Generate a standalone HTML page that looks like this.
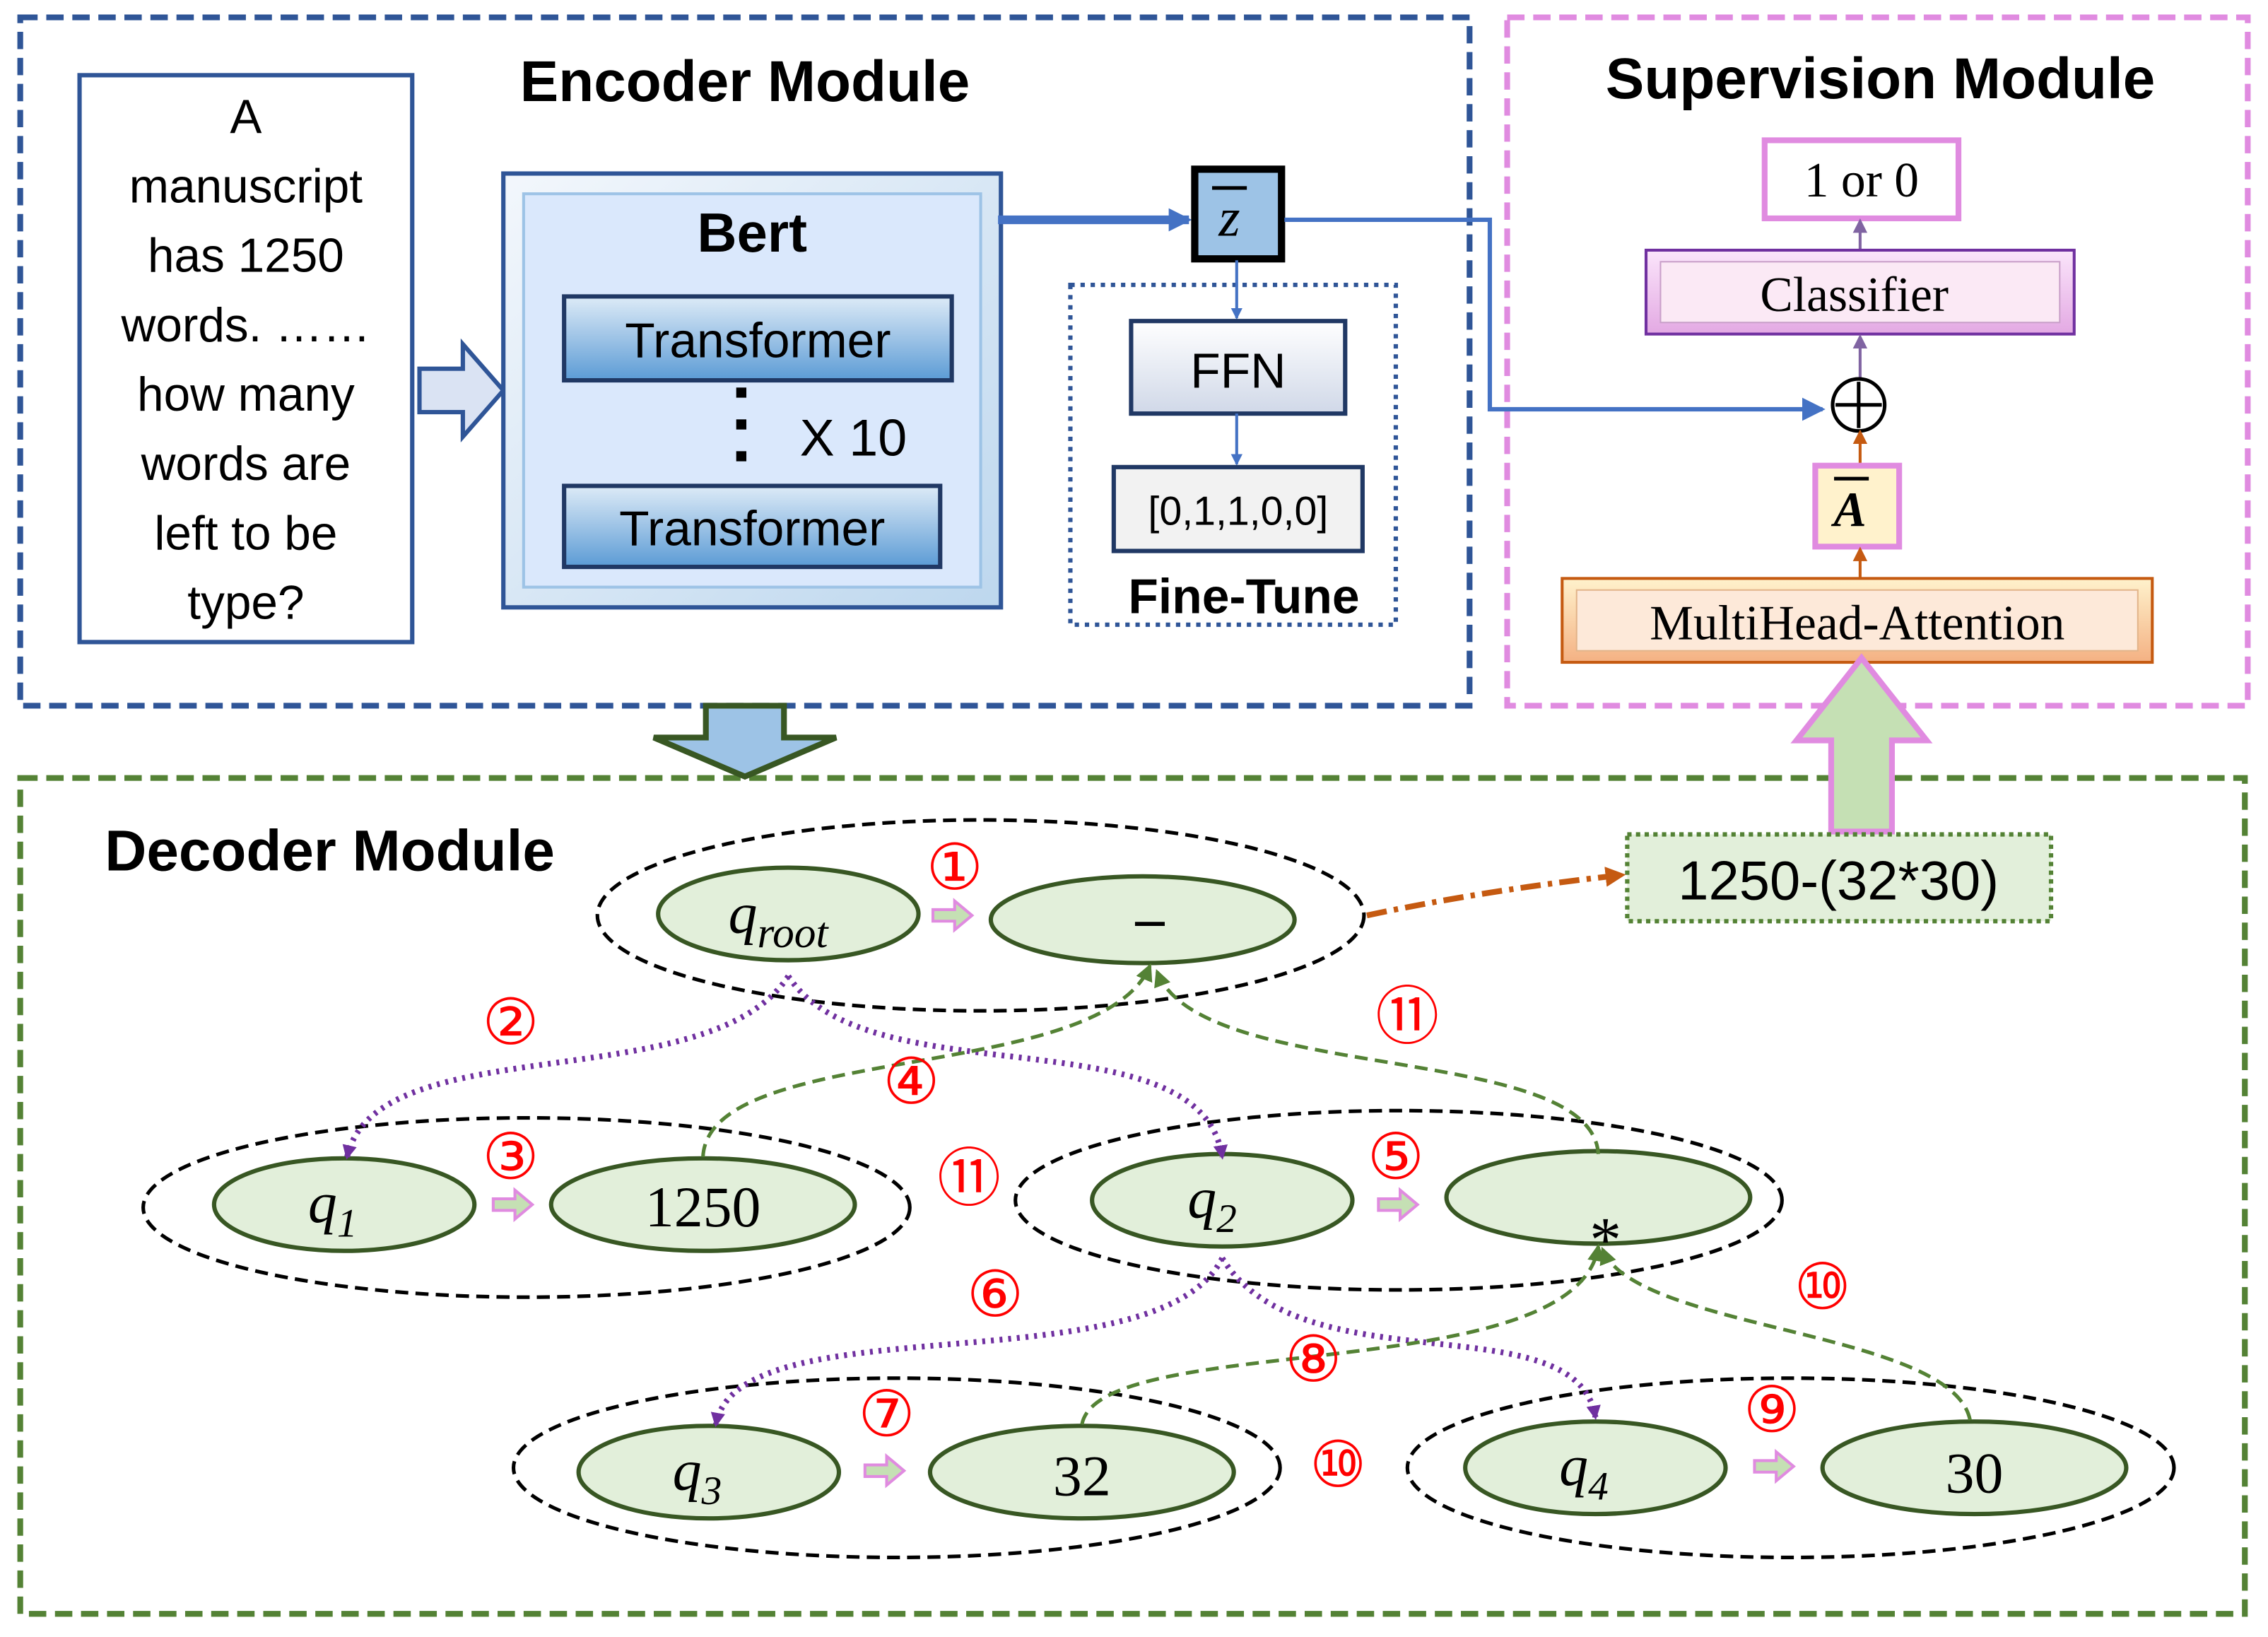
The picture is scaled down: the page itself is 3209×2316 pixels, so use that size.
<!DOCTYPE html>
<html><head><meta charset="utf-8"><style>html,body{margin:0;padding:0;background:#fff}svg{display:block}</style></head><body>
<svg width="3209" height="2316" viewBox="0 0 1568 1132" preserveAspectRatio="none" xmlns="http://www.w3.org/2000/svg">
<defs>
<linearGradient id="gb" x1="0" y1="0" x2="0" y2="1"><stop offset="0" stop-color="#ddebf7"/><stop offset="0.5" stop-color="#9dc3e6"/><stop offset="1" stop-color="#5b9bd5"/></linearGradient>
<linearGradient id="gbert" x1="0" y1="0" x2="1" y2="1"><stop offset="0" stop-color="#f3f7fc"/><stop offset="1" stop-color="#bdd7ee"/></linearGradient>
<linearGradient id="gg" x1="0" y1="0" x2="0" y2="1"><stop offset="0" stop-color="#fff"/><stop offset="1" stop-color="#d0d8e8"/></linearGradient>
<linearGradient id="gp" x1="0" y1="0" x2="0" y2="1"><stop offset="0" stop-color="#fbe5fb"/><stop offset="1" stop-color="#e3a9e3"/></linearGradient>
<linearGradient id="go" x1="0" y1="0" x2="0" y2="1"><stop offset="0" stop-color="#fff2cc"/><stop offset="1" stop-color="#f4b183"/></linearGradient>
<marker id="ab" markerWidth="8" markerHeight="8" refX="7" refY="4" orient="auto" markerUnits="userSpaceOnUse"><path d="M0,0 L8,4 L0,8z" fill="#4472c4"/></marker>
<marker id="abl" markerWidth="16" markerHeight="16" refX="14" refY="8" orient="auto" markerUnits="userSpaceOnUse"><path d="M0,0 L16,8 L0,16z" fill="#4472c4"/></marker>
<marker id="ap" markerWidth="10" markerHeight="10" refX="8" refY="5" orient="auto" markerUnits="userSpaceOnUse"><path d="M0,0 L10,5 L0,10z" fill="#7030a0"/></marker>
<marker id="ag" markerWidth="12" markerHeight="12" refX="10" refY="6" orient="auto" markerUnits="userSpaceOnUse"><path d="M0,0 L12,6 L0,12z" fill="#548235"/></marker>
<marker id="ao" markerWidth="14" markerHeight="14" refX="12" refY="7" orient="auto" markerUnits="userSpaceOnUse"><path d="M0,0 L14,7 L0,14z" fill="#c55a11"/></marker>
<marker id="apu" markerWidth="10" markerHeight="10" refX="8" refY="5" orient="auto" markerUnits="userSpaceOnUse"><path d="M0,0 L10,5 L0,10z" fill="#8064a2"/></marker>
<marker id="aor" markerWidth="10" markerHeight="10" refX="8" refY="5" orient="auto" markerUnits="userSpaceOnUse"><path d="M0,0 L10,5 L0,10z" fill="#c55a11"/></marker>
</defs>
<g font-family="Liberation Sans, sans-serif">
<rect x="14" y="12" width="1002" height="476" fill="none" stroke="#2f5597" stroke-width="4" stroke-dasharray="12,6"/>
<rect x="1042" y="12" width="512" height="476" fill="none" stroke="#e08be0" stroke-width="4" stroke-dasharray="12,6"/>
<rect x="14" y="538" width="1538" height="578" fill="none" stroke="#548235" stroke-width="4" stroke-dasharray="12,6"/>
<text x="515" y="70" font-size="40" font-weight="bold" text-anchor="middle">Encoder Module</text>
<text x="1300" y="68" font-size="40" font-weight="bold" text-anchor="middle">Supervision Module</text>
<text x="228" y="602" font-size="40" font-weight="bold" text-anchor="middle">Decoder Module</text>
<rect x="55" y="52" width="230" height="392" fill="#fff" stroke="#2f5597" stroke-width="3"/>
<g font-size="33" text-anchor="middle">
<text x="170" y="92">A</text><text x="170" y="140">manuscript</text><text x="170" y="188">has 1250</text><text x="170" y="236">words. ……</text><text x="170" y="284">how many</text><text x="170" y="332">words are</text><text x="170" y="380">left to be</text><text x="170" y="428">type?</text></g>
<path d="M290,255 L320,255 L320,238 L348,270 L320,302 L320,285 L290,285z" fill="#dae3f3" stroke="#2f5597" stroke-width="3"/>
<rect x="348" y="120" width="344" height="300" fill="url(#gbert)" stroke="#2f5597" stroke-width="3"/>
<rect x="362" y="134" width="316" height="272" fill="#dae8fc" stroke="#9dc3e6" stroke-width="2"/>
<text x="520" y="174" font-size="38" font-weight="bold" text-anchor="middle">Bert</text>
<rect x="390" y="205" width="268" height="58" fill="url(#gb)" stroke="#203864" stroke-width="3"/>
<text x="524" y="247" font-size="34" text-anchor="middle">Transformer</text>
<rect x="390" y="336" width="260" height="56" fill="url(#gb)" stroke="#203864" stroke-width="3"/>
<text x="520" y="377" font-size="34" text-anchor="middle">Transformer</text>
<rect x="509" y="268" width="7" height="7" fill="#000"/><rect x="509" y="290" width="7" height="7" fill="#000"/><rect x="509" y="312" width="7" height="7" fill="#000"/>
<text x="590" y="315" font-size="36" text-anchor="middle">X 10</text>
<line x1="690" y1="152" x2="822" y2="152" stroke="#4472c4" stroke-width="6" marker-end="url(#abl)"/>
<rect x="826" y="117" width="60" height="62" fill="#9dc3e6" stroke="#000" stroke-width="5"/>
<text x="850" y="163" font-size="38" font-style="italic" font-family="Liberation Serif, serif" text-anchor="middle">z</text>
<line x1="838" y1="130" x2="862" y2="130" stroke="#000" stroke-width="2.5"/>
<polyline points="888,152 1030,152 1030,283 1260,283" fill="none" stroke="#4472c4" stroke-width="3" marker-end="url(#abl)"/>
<rect x="740" y="197" width="225" height="235" fill="none" stroke="#2f5597" stroke-width="3" stroke-dasharray="3,4"/>
<line x1="855" y1="180" x2="855" y2="220" stroke="#4472c4" stroke-width="2" marker-end="url(#ab)"/>
<rect x="782" y="222" width="148" height="64" fill="url(#gg)" stroke="#203864" stroke-width="3"/>
<text x="856" y="268" font-size="34" text-anchor="middle">FFN</text>
<line x1="855" y1="286" x2="855" y2="321" stroke="#4472c4" stroke-width="2" marker-end="url(#ab)"/>
<rect x="770" y="323" width="172" height="58" fill="#f2f2f2" stroke="#203864" stroke-width="3"/>
<text x="856" y="363" font-size="28" text-anchor="middle">[0,1,1,0,0]</text>
<text x="860" y="424" font-size="34" font-weight="bold" text-anchor="middle">Fine-Tune</text>
<path d="M488,488 L542,488 L542,510 L578,510 L515,537 L452,510 L488,510z" fill="#9dc3e6" stroke="#385723" stroke-width="4"/>
<rect x="1220" y="97" width="134" height="54" fill="#fff" stroke="#e08be0" stroke-width="4"/>
<text x="1287" y="136" font-size="34" font-family="Liberation Serif, serif" text-anchor="middle">1 or 0</text>
<line x1="1286" y1="173" x2="1286" y2="153" stroke="#8064a2" stroke-width="2" marker-end="url(#apu)"/>
<rect x="1138" y="173" width="296" height="58" fill="url(#gp)" stroke="#7030a0" stroke-width="2"/>
<rect x="1148" y="181" width="276" height="42" fill="#fbe9f5" stroke="#c9a0c9"/>
<text x="1282" y="215" font-size="34" font-family="Liberation Serif, serif" text-anchor="middle">Classifier</text>
<line x1="1286" y1="262" x2="1286" y2="233" stroke="#8064a2" stroke-width="2" marker-end="url(#apu)"/>
<circle cx="1285" cy="280" r="18" fill="#fff" stroke="#000" stroke-width="2.5"/>
<line x1="1269" y1="280" x2="1301" y2="280" stroke="#000" stroke-width="2.5"/><line x1="1285" y1="264" x2="1285" y2="296" stroke="#000" stroke-width="2.5"/>
<line x1="1286" y1="322" x2="1286" y2="299" stroke="#c55a11" stroke-width="2" marker-end="url(#aor)"/>
<rect x="1255" y="322" width="58" height="56" fill="#fff2cc" stroke="#e08be0" stroke-width="4"/>
<text x="1279" y="364" font-size="34" font-weight="bold" font-style="italic" font-family="Liberation Serif, serif" text-anchor="middle">A</text>
<line x1="1268" y1="331" x2="1292" y2="331" stroke="#000" stroke-width="2.5"/>
<line x1="1286" y1="400" x2="1286" y2="380" stroke="#c55a11" stroke-width="2" marker-end="url(#aor)"/>
<rect x="1080" y="400" width="408" height="58" fill="url(#go)" stroke="#c55a11" stroke-width="2"/>
<rect x="1090" y="408" width="388" height="42" fill="#fde9d9" stroke="#e2b48a"/>
<text x="1284" y="442" font-size="34" font-family="Liberation Serif, serif" text-anchor="middle">MultiHead-Attention</text>
<path d="M1266,575 L1266,512 L1242,512 L1287,455 L1332,512 L1308,512 L1308,575z" fill="#c5e0b4" stroke="#e08be0" stroke-width="4"/>
<g fill="none" stroke="#000" stroke-width="2.5" stroke-dasharray="9,5">
<ellipse cx="678" cy="633" rx="265" ry="66"/>
<ellipse cx="364" cy="835" rx="265" ry="62"/>
<ellipse cx="967" cy="830" rx="265" ry="62"/>
<ellipse cx="620" cy="1015" rx="265" ry="62"/>
<ellipse cx="1238" cy="1015" rx="265" ry="62"/>
</g>
<g fill="#e2efda" stroke="#385723" stroke-width="3">
<ellipse cx="545" cy="632" rx="90" ry="32"/><ellipse cx="790" cy="636" rx="105" ry="30"/>
<ellipse cx="238" cy="833" rx="90" ry="32"/><ellipse cx="486" cy="833" rx="105" ry="32"/>
<ellipse cx="845" cy="830" rx="90" ry="32"/><ellipse cx="1105" cy="828" rx="105" ry="32"/>
<ellipse cx="490" cy="1018" rx="90" ry="32"/><ellipse cx="748" cy="1018" rx="105" ry="32"/>
<ellipse cx="1103" cy="1015" rx="90" ry="32"/><ellipse cx="1365" cy="1015" rx="105" ry="32"/>
</g>
<g font-family="Liberation Serif, serif" font-size="40" text-anchor="middle">
<text x="538" y="645" font-style="italic">q<tspan font-size="30" dy="10">root</tspan></text>
<text x="795" y="648" font-weight="bold">–</text>
<text x="230" y="845" font-style="italic">q<tspan font-size="28" dy="10">1</tspan></text>
<text x="486" y="848">1250</text>
<text x="838" y="842" font-style="italic">q<tspan font-size="28" dy="10">2</tspan></text>
<text x="1110" y="872" font-size="44">*</text>
<text x="482" y="1030" font-style="italic">q<tspan font-size="28" dy="10">3</tspan></text>
<text x="748" y="1034">32</text>
<text x="1095" y="1027" font-style="italic">q<tspan font-size="28" dy="10">4</tspan></text>
<text x="1365" y="1032">30</text>
</g>
<g fill="#c5e0b4" stroke="#e08be0" stroke-width="2">
<path d="M645,629 L660,629 L660,623 L672,633 L660,643 L660,637 L645,637z"/>
<path d="M341,829 L356,829 L356,823 L368,833 L356,843 L356,837 L341,837z"/>
<path d="M953,829 L968,829 L968,823 L980,833 L968,843 L968,837 L953,837z"/>
<path d="M598,1013 L613,1013 L613,1007 L625,1017 L613,1027 L613,1021 L598,1021z"/>
<path d="M1213,1010 L1228,1010 L1228,1004 L1240,1014 L1228,1024 L1228,1018 L1213,1018z"/>
</g>
<rect x="1125" y="577" width="293" height="60" fill="#e2efda" stroke="#548235" stroke-width="3" stroke-dasharray="3,3"/>
<text x="1271" y="622" font-size="38" text-anchor="middle">1250-(32*30)</text>
<path d="M945,633 Q1030,615 1122,605" fill="none" stroke="#c55a11" stroke-width="4" stroke-dasharray="14,5,3,5" marker-end="url(#ao)"/>
<g fill="none" stroke="#7030a0" stroke-width="4" stroke-dasharray="2,4">
<path d="M545,675 C490,760 260,710 240,800" marker-end="url(#ap)"/>
<path d="M545,675 C600,760 830,700 845,800" marker-end="url(#ap)"/>
<path d="M845,870 C800,960 510,900 495,985" marker-end="url(#ap)"/>
<path d="M845,870 C900,960 1090,900 1103,980" marker-end="url(#ap)"/>
</g>
<g fill="none" stroke="#548235" stroke-width="2.5" stroke-dasharray="9,5">
<path d="M486,800 C490,720 760,750 795,668" marker-end="url(#ag)"/>
<path d="M1105,798 C1100,720 830,750 800,672" marker-end="url(#ag)"/>
<path d="M748,985 C760,920 1090,960 1105,862" marker-end="url(#ag)"/>
<path d="M1362,982 C1350,920 1130,920 1108,864" marker-end="url(#ag)"/>
</g>
<g fill="#ff0000" font-size="44" text-anchor="middle" font-family="DejaVu Sans, sans-serif">
<text x="660" y="615">①</text><text x="353" y="722">②</text><text x="353" y="815">③</text>
<text x="630" y="763">④</text><text x="965" y="815">⑤</text><text x="688" y="910">⑥</text>
<text x="613" y="993">⑦</text><text x="908" y="955">⑧</text><text x="1225" y="990">⑨</text>
<text x="1260" y="905">⑩</text><text x="925" y="1028">⑩</text>
<text x="973" y="718">⑪</text><text x="670" y="830">⑪</text>
</g>
</g>
</svg>
</body></html>
